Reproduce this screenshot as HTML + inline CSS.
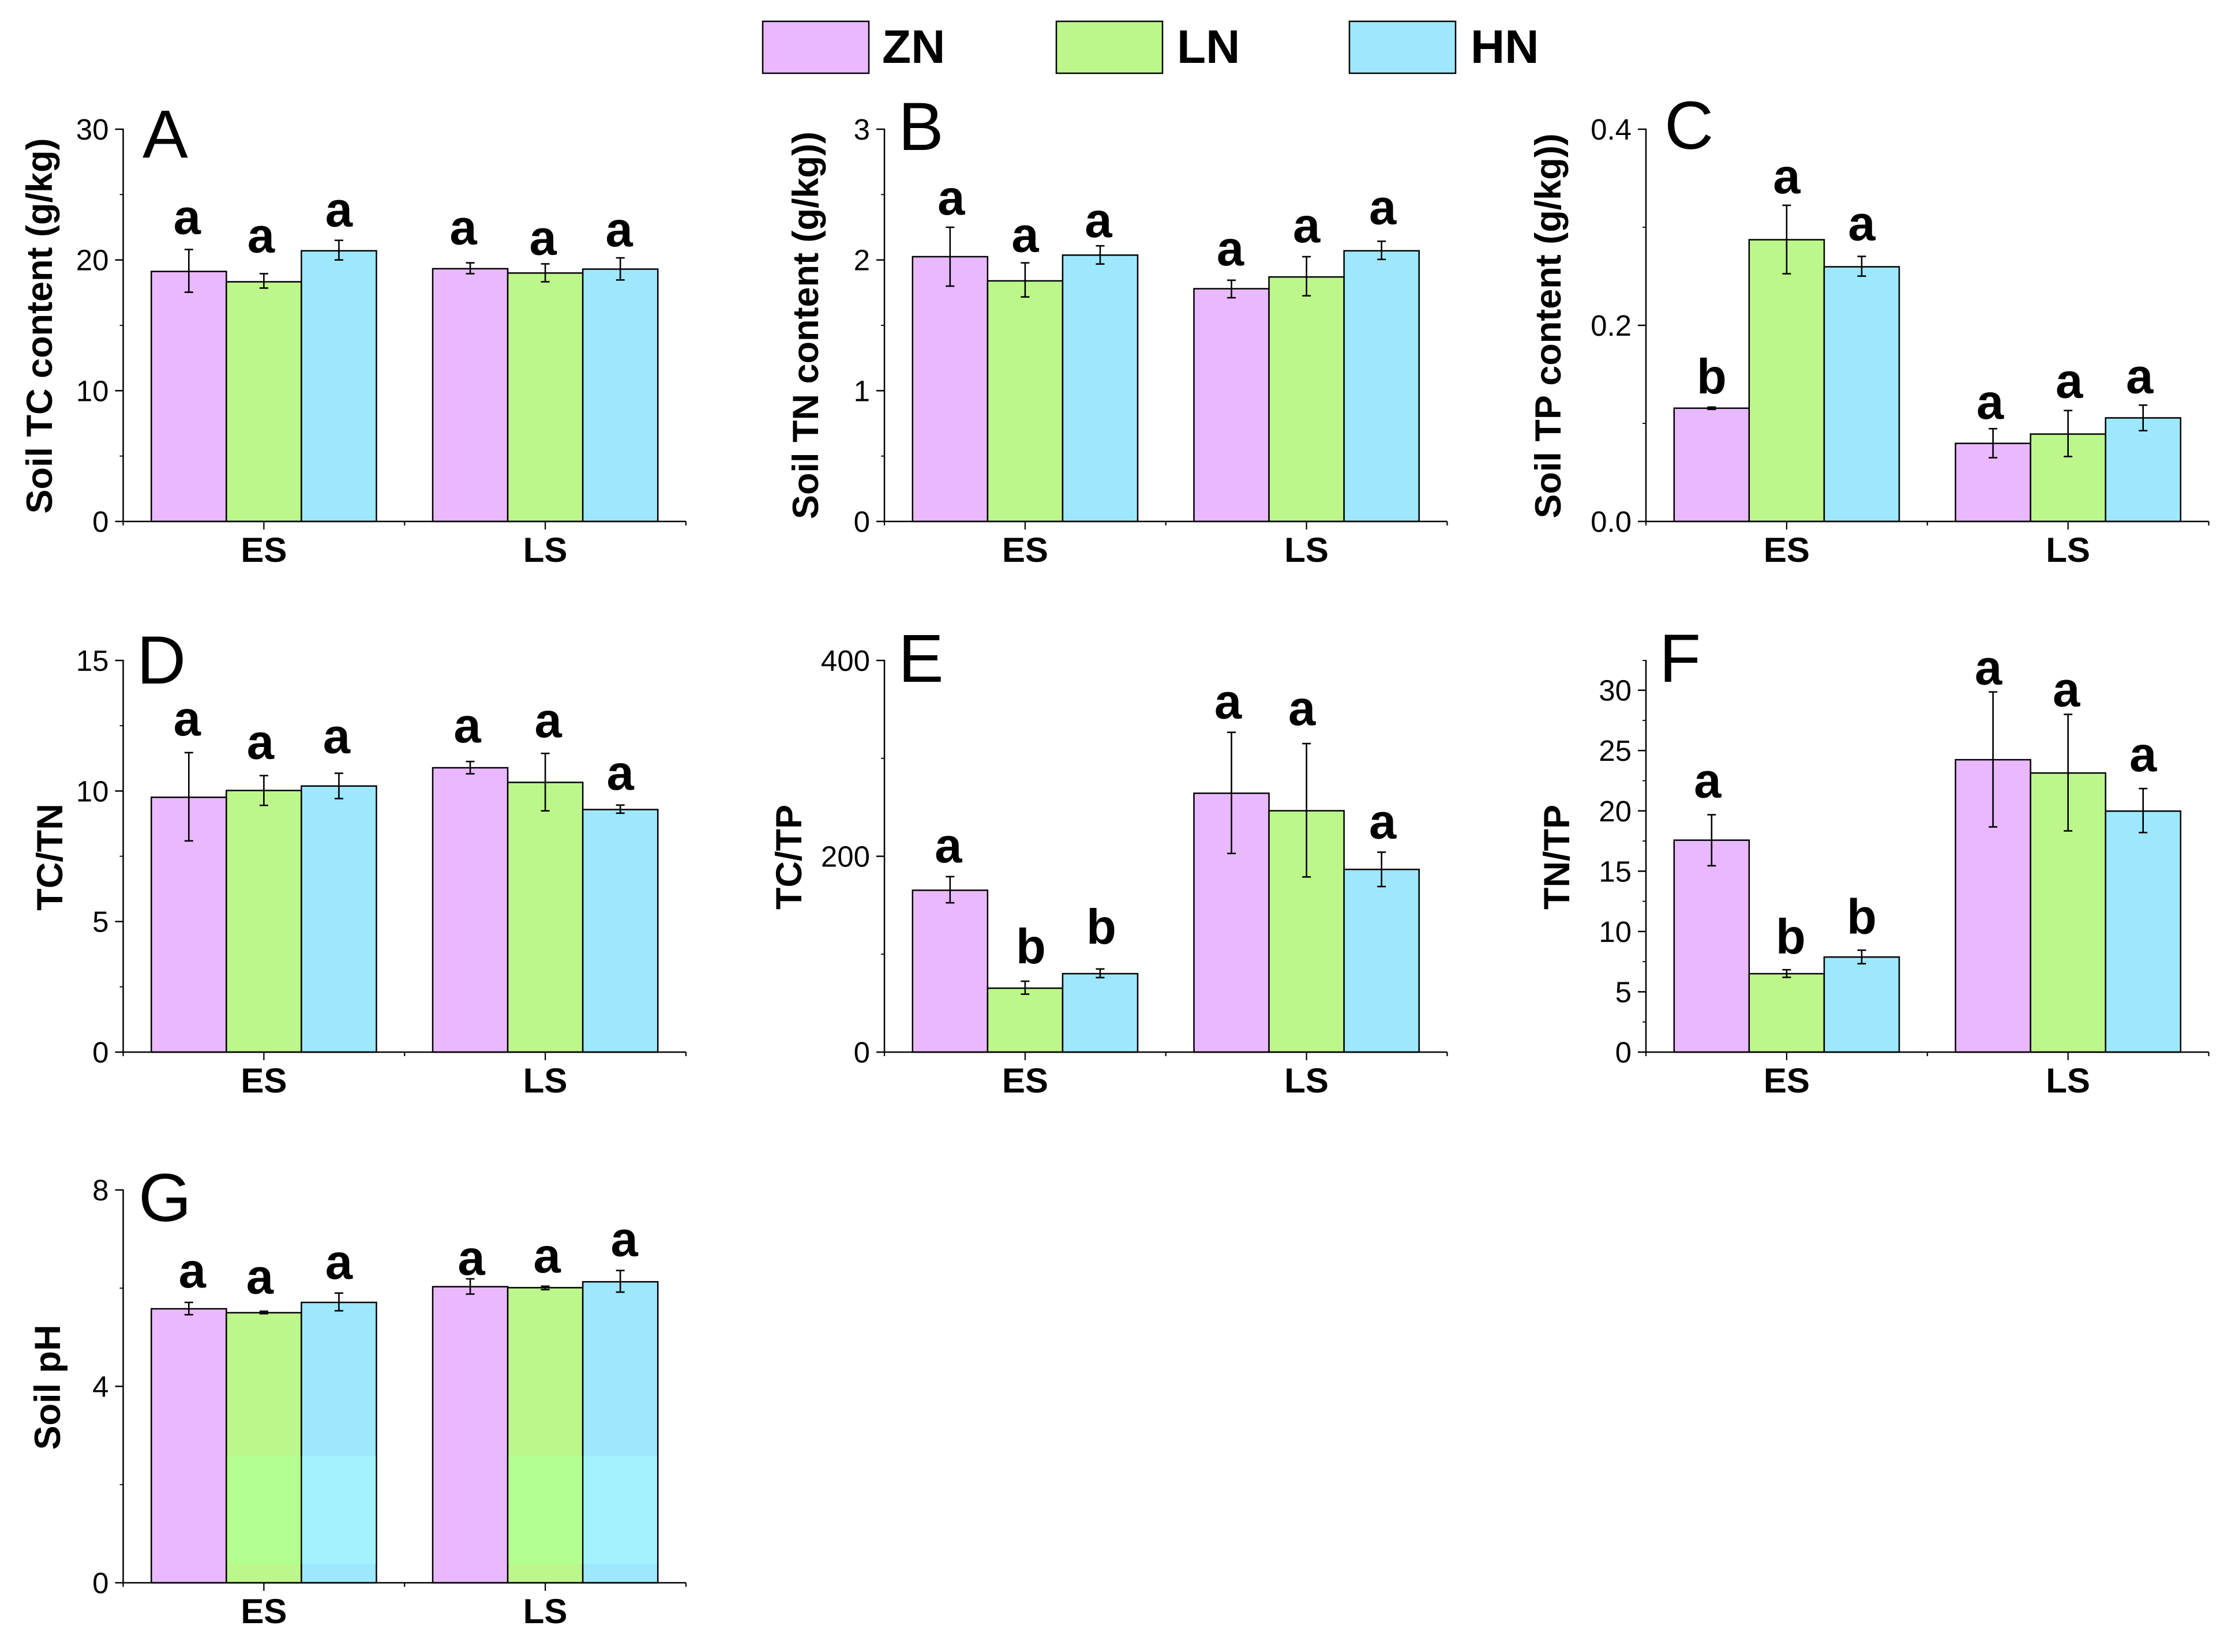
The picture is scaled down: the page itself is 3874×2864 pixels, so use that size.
<!DOCTYPE html>
<html lang="en">
<head>
<meta charset="utf-8">
<title>Soil properties by nitrogen treatment</title>
<style>
  html, body { margin: 0; padding: 0; background: #ffffff; }
  body { width: 3874px; height: 2864px; overflow: hidden; }
  svg { display: block; font-family: "Liberation Sans", Arial, sans-serif; }
  .tick { font-size: 51px; fill: #000; text-anchor: end; }
  .cat { font-size: 60px; font-weight: 700; fill: #000; text-anchor: middle; }
  .ytitle { font-size: 63px; font-weight: 700; fill: #000; text-anchor: middle; }
  .sig { font-size: 85px; font-weight: 700; fill: #000; text-anchor: middle; }
  .panel-letter { font-size: 118px; fill: #000; }
  .legend-text { font-size: 82px; font-weight: 700; fill: #000; }
</style>
</head>
<body>
<svg id="figure" xmlns="http://www.w3.org/2000/svg" width="3874" height="2864" viewBox="0 0 3874 2864">
  <rect x="0" y="0" width="3874" height="2864" fill="#ffffff"/>
  <g>
    <g>
      <rect x="1322" y="37" width="184" height="90" fill="#E9B8FF" stroke="#000" stroke-width="2.5"/>
      <text class="legend-text" x="1529" y="109">ZN</text>
    </g>
    <g>
      <rect x="1831" y="37" width="184" height="90" fill="#BDF78B" stroke="#000" stroke-width="2.5"/>
      <text class="legend-text" x="2040" y="109">LN</text>
    </g>
    <g>
      <rect x="2339" y="37" width="184" height="90" fill="#9DE8FF" stroke="#000" stroke-width="2.5"/>
      <text class="legend-text" x="2549" y="109">HN</text>
    </g>
  </g>
</svg>

<script>
// Shared categories and series
const categories = ['ES', 'LS'];
const seriesNames = ['ZN', 'LN', 'HN'];

// Panel A — values ordered ES-ZN, ES-LN, ES-HN, LS-ZN, LS-LN, LS-HN
const aTitle = 'Soil TC content (g/kg)';
const aTicks = [0, 10, 20, 30];
const aMinorTicks = [5, 15, 25];
const aValues = [19.12, 18.33, 20.7, 19.33, 19.0, 19.3];
const aErrHigh = [20.8, 18.95, 21.5, 19.78, 19.7, 20.16];
const aErrLow = [17.53, 17.85, 20.0, 18.95, 18.33, 18.47];
const aLetters = ['a', 'a', 'a', 'a', 'a', 'a'];

// Panel B
const bTitle = 'Soil TN content (g/kg))';
const bTicks = [0, 1, 2, 3];
const bMinorTicks = [0.5, 1.5, 2.5];
const bValues = [2.025, 1.84, 2.037, 1.78, 1.87, 2.07];
const bErrHigh = [2.25, 1.978, 2.108, 1.845, 2.025, 2.143];
const bErrLow = [1.80, 1.717, 1.969, 1.711, 1.726, 2.004];
const bLetters = ['a', 'a', 'a', 'a', 'a', 'a'];

// Panel C
const cTitle = 'Soil TP content (g/kg))';
const cTicks = [0, 0.2, 0.4];
const cTickLabels = ['0.0', '0.2', '0.4'];
const cMinorTicks = [0.1, 0.3];
const cValues = [0.1155, 0.2873, 0.2597, 0.0796, 0.0891, 0.1056];
const cErrHigh = [0.1166, 0.3224, 0.2703, 0.0946, 0.1131, 0.1186];
const cErrLow = [0.1143, 0.2526, 0.2502, 0.065, 0.0662, 0.0926];
const cLetters = ['b', 'a', 'a', 'a', 'a', 'a'];

// Panel D
const dTitle = 'TC/TN';
const dTicks = [0, 5, 10, 15];
const dMinorTicks = [2.5, 7.5, 12.5];
const dValues = [9.76, 10.02, 10.19, 10.89, 10.33, 9.29];
const dErrHigh = [11.47, 10.59, 10.68, 11.13, 11.44, 9.46];
const dErrLow = [8.09, 9.45, 9.71, 10.66, 9.24, 9.15];
const dLetters = ['a', 'a', 'a', 'a', 'a', 'a'];

// Panel E
const eTitle = 'TC/TP';
const eTicks = [0, 200, 400];
const eMinorTicks = [100, 300];
const eValues = [165.3, 65.3, 80.1, 264.4, 246.5, 186.6];
const eErrHigh = [179.2, 72.4, 84.9, 326.6, 315.1, 204.2];
const eErrLow = [152.5, 59.2, 76.1, 202.9, 178.9, 169.1];
const eLetters = ['a', 'b', 'b', 'a', 'a', 'a'];

// Panel F
const fTitle = 'TN/TP';
const fTicks = [0, 5, 10, 15, 20, 25, 30];
const fMinorTicks = [2.5, 7.5, 12.5, 17.5, 22.5, 27.5, 32.5];
const fValues = [17.57, 6.5, 7.88, 24.24, 23.14, 19.98];
const fErrHigh = [19.68, 6.83, 8.45, 29.86, 28.0, 21.85];
const fErrLow = [15.45, 6.2, 7.33, 18.67, 18.34, 18.2];
const fLetters = ['a', 'b', 'b', 'a', 'a', 'a'];

// Panel G
const gTitle = 'Soil pH';
const gTicks = [0, 4, 8];
const gMinorTicks = [2, 6];
const gValues = [5.58, 5.50, 5.71, 6.03, 6.01, 6.13];
const gErrHigh = [5.71, 5.53, 5.90, 6.19, 6.04, 6.36];
const gErrLow = [5.46, 5.48, 5.54, 5.88, 5.97, 5.92];
const gLetters = ['a', 'a', 'a', 'a', 'a', 'a'];
const gBrightBand = [0.385, 2.58];

// Layout and style, kept apart from the data
const fills = ['#E9B8FF', '#BDF78B', '#9DE8FF'];
const bandFills = [null, '#B3FF8F', '#A4F1FF'];
const axisLength = 975.5;
const axisStroke = 2.5;
const panels = [
  { id: 'a', label: 'A', labelX: 247, labelY: 273, x0: 213.5, yTop: 224, yBottom: 904, max: 30, title: aTitle, titleX: 90, titleY: 565, ticks: aTicks, minor: aMinorTicks, values: aValues, hi: aErrHigh, lo: aErrLow, letters: aLetters, gap: [27, 37, 24, 32, 16, 20], dx: [-3, -5, 0, -12, -4, -2] },
  { id: 'b', label: 'B', labelX: 1557, labelY: 260, x0: 1533, yTop: 224, yBottom: 904, max: 3, title: bTitle, titleX: 1418, titleY: 564, ticks: bTicks, minor: bMinorTicks, values: bValues, hi: bErrHigh, lo: bErrLow, letters: bLetters, gap: [22, 19, 15, 26, 25, 30], dx: [2, 0, -3, -2, 0, 2] },
  { id: 'c', label: 'C', labelX: 2885, labelY: 258, x0: 2853, yTop: 224, yBottom: 904, max: 0.4, title: cTitle, titleX: 2705, titleY: 565, ticks: cTicks, tickLabels: cTickLabels, minor: cMinorTicks, values: cValues, hi: cErrHigh, lo: cErrLow, letters: cLetters, gap: [24, 21, 28, 17, 22, 21], dx: [0, 0, 0, -5, 2, -6] },
  { id: 'd', label: 'D', labelX: 237, labelY: 1185, x0: 213.5, yTop: 1145, yBottom: 1824, max: 15, title: dTitle, titleX: 108, titleY: 1486, ticks: dTicks, minor: dMinorTicks, values: dValues, hi: dErrHigh, lo: dErrLow, letters: dLetters, gap: [30, 29, 35, 33, 28, 27], dx: [-3, -6, -4, -5, 5, 0] },
  { id: 'e', label: 'E', labelX: 1557, labelY: 1182, x0: 1533, yTop: 1145, yBottom: 1824, max: 400, title: eTitle, titleX: 1389, titleY: 1486, ticks: eTicks, minor: eMinorTicks, values: eValues, hi: eErrHigh, lo: eErrLow, letters: eLetters, gap: [25, 31, 44, 24, 32, 24], dx: [-3, 10, 2, -6, -8, 2] },
  { id: 'f', label: 'F', labelX: 2876, labelY: 1182, x0: 2853, yTop: 1145, yBottom: 1824, max: 32.47, title: fTitle, titleX: 2720, titleY: 1486, ticks: fTicks, minor: fMinorTicks, values: fValues, hi: fErrHigh, lo: fErrLow, letters: fLetters, gap: [30, 28, 29, 13, 14, 30], dx: [-7, 7, 0, -8, -3, 0] },
  { id: 'g', label: 'G', labelX: 240, labelY: 2117, x0: 213.5, yTop: 2063, yBottom: 2744, max: 8, title: gTitle, titleX: 104, titleY: 2405, ticks: gTicks, minor: gMinorTicks, values: gValues, hi: gErrHigh, lo: gErrLow, letters: gLetters, band: gBrightBand, gap: [26, 31, 25, 7, 24, 25], dx: [6, -7, 0, 2, 3, 7] }
];

const SVGNS = 'http://www.w3.org/2000/svg';
const svg = document.getElementById('figure');

function make(parent, tag, attrs, text) {
  const el = document.createElementNS(SVGNS, tag);
  for (const key in attrs) el.setAttribute(key, attrs[key]);
  if (text !== undefined) el.textContent = text;
  parent.appendChild(el);
  return el;
}

function line(parent, x1, y1, x2, y2, w) {
  return make(parent, 'line', { x1: x1, y1: y1, x2: x2, y2: y2, stroke: '#000', 'stroke-width': w });
}

function xScale(p, position) {
  // position runs 0.5 … 2.5 across the category axis
  return p.x0 + (position - 0.5) / 2 * axisLength;
}

function yScale(p, value) {
  return p.yBottom - (value / p.max) * (p.yBottom - p.yTop);
}

function barLeft(p, index) {
  const group = Math.floor(index / seriesNames.length);
  const member = index % seriesNames.length;
  const barWidth = 0.8 / seriesNames.length;
  return xScale(p, group + 1 - 0.4 + member * barWidth);
}

function barWidthPx(p) {
  return xScale(p, 0.5 + 0.8 / seriesNames.length) - xScale(p, 0.5);
}

function drawPanel(p) {
  const g = make(svg, 'g', {});
  
  

  const w = barWidthPx(p);

  // Bars
  p.values.forEach(function (v, i) {
    const y = yScale(p, v);
    const rect = make(g, 'rect', { x: barLeft(p, i), y: y, width: w, height: p.yBottom - y, fill: fills[i % 3], stroke: '#000', 'stroke-width': 2.5 });
    
    
  });

  // Slight colour band visible on panel G
  if (p.band) {
    p.values.forEach(function (v, i) {
      if (!bandFills[i % 3]) return;
      const top = yScale(p, p.band[1]);
      const bottom = yScale(p, p.band[0]);
      const rect = make(g, 'rect', { x: barLeft(p, i) + 1.25, y: top, width: w - 2.5, height: bottom - top, fill: bandFills[i % 3] });
      
      
    });
  }

  // Error bars
  p.values.forEach(function (v, i) {
    const cx = barLeft(p, i) + w / 2;
    const top = yScale(p, p.hi[i]);
    const bottom = yScale(p, p.lo[i]);
    const eb = make(g, 'g', {});
    
    
    line(eb, cx, top, cx, bottom, 2.6);
    line(eb, cx - 7.5, top, cx + 7.5, top, 2.6);
    line(eb, cx - 7.5, bottom, cx + 7.5, bottom, 2.6);
  });

  // Significance letters
  p.letters.forEach(function (letter, i) {
    const cx = barLeft(p, i) + w / 2 + p.dx[i];
    const baseline = yScale(p, p.hi[i]) - p.gap[i];
    const t = make(g, 'text', { class: 'sig', x: cx, y: baseline }, letter);
    
    
  });

  // Y axis
  const yAxis = make(g, 'g', {});
  
  
  line(yAxis, p.x0, p.yTop - 1, p.x0, p.yBottom + 1, axisStroke);
  p.ticks.forEach(function (v, i) {
    const y = yScale(p, v);
    line(yAxis, p.x0 - 14, y, p.x0, y, axisStroke);
    const label = p.tickLabels ? p.tickLabels[i] : String(v);
    const t = make(yAxis, 'text', { class: 'tick', x: p.x0 - 25, y: y + 18 }, label);
    
    
  });
  p.minor.forEach(function (v) {
    const y = Math.max(yScale(p, v), p.yTop);
    line(yAxis, p.x0 - 6, y, p.x0, y, 1.8);
  });

  // X axis
  const xAxis = make(g, 'g', {});
  
  
  line(xAxis, p.x0 - 1, p.yBottom, p.x0 + axisLength, p.yBottom, axisStroke);
  [0.5, 1.5, 2.5].forEach(function (pos) {
    const x = xScale(p, pos);
    line(xAxis, x, p.yBottom, x, p.yBottom + 7, 2.2);
  });
  categories.forEach(function (name, i) {
    const x = xScale(p, i + 1);
    line(xAxis, x, p.yBottom, x, p.yBottom + 14, 2.2);
    const t = make(xAxis, 'text', { class: 'cat', x: x, y: p.yBottom + 70 }, name);
    
    
  });

  // Y-axis title
  const title = make(g, 'text', { class: 'ytitle', transform: 'translate(' + p.titleX + ' ' + p.titleY + ') rotate(-90)' }, p.title);
  
  

  // Panel letter
  const letter = make(g, 'text', { class: 'panel-letter', x: p.labelX, y: p.labelY }, p.label);
  
  
}

panels.forEach(drawPanel);
</script>
</body>
</html>
